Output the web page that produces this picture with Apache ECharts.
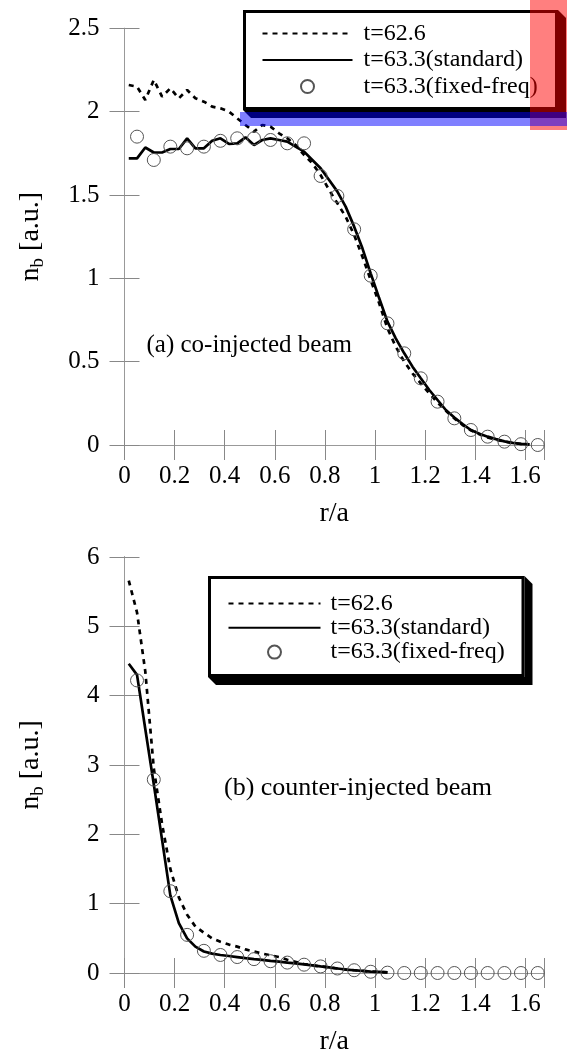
<!DOCTYPE html>
<html><head><meta charset="utf-8">
<script src="https://cdn.jsdelivr.net/npm/echarts@6.0.0/dist/echarts.min.js"></script>
<style>html,body{margin:0;padding:0;background:#fff}#c{width:567px;height:1051px}</style>
</head><body><div id="c"></div>
<script>
// ---- data ----
const seriesNames = ['t=62.6', 't=63.3(standard)', 't=63.3(fixed-freq)'];
const panelLabels = ['(a) co-injected beam', '(b) counter-injected beam'];
const xTitle = 'r/a';

const rLine = [0.017,0.05,0.083,0.117,0.15,0.183,0.217,0.25,0.283,0.317,0.35,0.383,0.417,0.45,0.483,0.517,0.55,0.583,0.617,0.65,0.683,0.717,0.75,0.783,0.817,0.85,0.883,0.917,0.95,0.983,1.017,1.05,1.083,1.117,1.15,1.183,1.217,1.25,1.283,1.317,1.35,1.383,1.417,1.45,1.483,1.517,1.55,1.583,1.617];
const rPts = [0.05,0.117,0.183,0.25,0.317,0.383,0.45,0.517,0.583,0.65,0.717,0.783,0.85,0.917,0.983,1.05,1.117,1.183,1.25,1.317,1.383,1.45,1.517,1.583,1.65];

const coT626 = [2.16,2.15,2.07,2.19,2.09,2.14,2.08,2.13,2.08,2.06,2.03,2.02,2.00,1.96,1.92,1.88,1.92,1.91,1.87,1.84,1.80,1.74,1.69,1.62,1.53,1.45,1.37,1.26,1.13,0.99,0.85,0.70,0.59,0.50,0.43,0.37,0.31,0.255,0.205,0.16,0.12,0.088,0.065,0.045,0.032,0.02,0.012,0.006,0.003];
const coStd = [1.72,1.72,1.785,1.755,1.755,1.776,1.776,1.84,1.78,1.78,1.825,1.84,1.806,1.81,1.846,1.80,1.83,1.84,1.83,1.82,1.79,1.76,1.71,1.66,1.59,1.52,1.43,1.31,1.18,1.03,0.88,0.74,0.64,0.55,0.47,0.40,0.33,0.27,0.21,0.165,0.125,0.09,0.068,0.05,0.035,0.022,0.013,0.007,0.004];
const coFix = [1.85,1.71,1.79,1.78,1.79,1.825,1.84,1.84,1.83,1.81,1.81,1.614,1.494,1.294,1.016,0.73,0.55,0.40,0.26,0.16,0.09,0.05,0.02,0.005,0.0];

const ctrT626 = [5.66,5.20,4.35,2.95,2.15,1.50,1.09,0.84,0.67,0.58,0.50,0.45,0.41,0.38,0.34,0.31,0.28,0.255,0.23,0.19,0.16,0.13,0.11,0.095,0.08,0.065,0.05,0.04,0.03,0.02,0.015,0.01];
const ctrStd = [4.46,4.30,3.52,2.72,1.92,1.12,0.72,0.50,0.38,0.31,0.28,0.26,0.245,0.23,0.215,0.20,0.19,0.175,0.165,0.15,0.14,0.125,0.11,0.095,0.08,0.065,0.05,0.04,0.03,0.02,0.015,0.01];
const ctrFix = [4.22,2.79,1.18,0.55,0.32,0.26,0.23,0.20,0.17,0.15,0.12,0.095,0.065,0.04,0.018,0.005,0,0,0,0,0,0,0,0,0];

const xMin = 0, xMax = 1.675, xStep = 0.2;
const yMaxA = 2.5, yStepA = 0.5;
const yMaxB = 6, yStepB = 1;

const FONT = 'Liberation Serif';
function pairs(xs, ys) { return ys.map((y, i) => [xs[i], y]); }
const onStep = (v, s) => Math.abs(v / s - Math.round(v / s)) < 1e-6;

const grids = [
  { left: 124.5, top: 28.3, width: 419.5, height: 416.7 },
  { left: 124.5, top: 557, width: 419.5, height: 416 }
];

const xAxes = [], yAxes = [];
const steps = [[yMaxA, yStepA], [yMaxB, yStepB]];
grids.forEach((g, gi) => {
  xAxes.push({
    type: 'value', gridIndex: gi, position: 'bottom', min: xMin, max: xMax, interval: xStep,
    axisLine: { lineStyle: { color: '#444', width: 1 } },
    axisTick: { inside: true, length: 15, lineStyle: { color: '#888', width: 1 } },
    splitLine: { show: false },
    axisLabel: { fontFamily: FONT, fontSize: 25, color: '#000', margin: 19,
      formatter: v => onStep(v, xStep) ? String(+v.toFixed(1)) : '' },
    name: xTitle, nameLocation: 'middle', nameGap: 55,
    nameTextStyle: { fontFamily: FONT, fontSize: 28, color: '#000' }
  });
  xAxes.push({
    type: 'value', gridIndex: gi, position: 'top', min: xMin, max: xMax, interval: xStep,
    axisLine: { lineStyle: { color: '#999', width: 1 } },
    axisTick: { inside: true, length: 15, lineStyle: { color: '#888', width: 1 } },
    splitLine: { show: false }, axisLabel: { show: false }
  });
  const [ym, ys] = steps[gi];
  yAxes.push({
    type: 'value', gridIndex: gi, position: 'left', min: 0, max: ym, interval: ys,
    axisLine: { lineStyle: { color: '#444', width: 1 } },
    axisTick: { inside: true, length: 15, lineStyle: { color: '#888', width: 1 } },
    splitLine: { show: false },
    axisLabel: { fontFamily: FONT, fontSize: 25, color: '#000', margin: 25 },
    name: '{m|n}{s|b}{m| [a.u.]}', nameLocation: 'middle', nameGap: 77, nameRotate: 90,
    nameTextStyle: { fontFamily: FONT, fontSize: 28, color: '#000',
      rich: {
        m: { fontFamily: FONT, fontSize: 28, color: '#000', lineHeight: 34, verticalAlign: 'middle' },
        s: { fontFamily: FONT, fontSize: 19, color: '#000', lineHeight: 18, verticalAlign: 'bottom' }
      } }
  });
  yAxes.push({
    type: 'value', gridIndex: gi, position: 'right', min: 0, max: ym, interval: ys,
    axisLine: { lineStyle: { color: '#999', width: 1 } },
    axisTick: { inside: true, length: 15, lineStyle: { color: '#888', width: 1 } },
    splitLine: { show: false }, axisLabel: { show: false }
  });
});

const panels = [
  { x: 0, y: 0, dashed: coT626, solid: coStd, pts: coFix },
  { x: 2, y: 2, dashed: ctrT626, solid: ctrStd, pts: ctrFix }
];
const series = [];
panels.forEach(p => {
  series.push({
    name: seriesNames[0], type: 'line', xAxisIndex: p.x, yAxisIndex: p.y,
    data: pairs(rLine, p.dashed), symbol: 'none', z: 3,
    itemStyle: { color: '#000' },
    lineStyle: { color: '#000', width: 2.7, type: [5, 5] }
  });
  series.push({
    name: seriesNames[1], type: 'line', xAxisIndex: p.x, yAxisIndex: p.y,
    data: pairs(rLine, p.solid), symbol: 'none', z: 3,
    itemStyle: { color: '#000' },
    lineStyle: { color: '#000', width: 2.7, type: 'solid' }
  });
  series.push({
    name: seriesNames[2], type: 'scatter', xAxisIndex: p.x, yAxisIndex: p.y,
    data: pairs(rPts, p.pts), symbol: 'circle', symbolSize: 13, z: 4,
    itemStyle: { color: 'rgba(0,0,0,0)', borderColor: '#555', borderWidth: 1, opacity: 1 }
  });
});

function legendOf(left, top, iw, gap, pad, tpad) {
  return {
    orient: 'vertical', left: left, top: top, itemWidth: iw, itemHeight: 13, itemGap: gap,
    padding: pad, backgroundColor: 'transparent', borderWidth: 0,
    selectedMode: false, z: 10,
    textStyle: { fontFamily: FONT, fontSize: 24, color: '#000', padding: [0, 0, 0, tpad] },
    data: [
      { name: seriesNames[0], itemStyle: { opacity: 0 } },
      { name: seriesNames[1], itemStyle: { opacity: 0 } },
      { name: seriesNames[2] }
    ]
  };
}

const frames = [[244.5, 11.5, 312, 97, 8], [209.5, 577.5, 313.5, 98, 8]];
const frameEls = [];
frames.forEach((f, i) => {
  const [fx, fy, fw, fh, o] = f;
  const R = fx + fw + 1.5, B = fy + fh + 1.5, L = fx - 1.5, T = fy - 1.5;
  frameEls.push({ type: 'rect', id: 'frame' + i, z: 9, silent: true,
    shape: { x: fx, y: fy, width: fw, height: fh },
    style: { fill: '#fff', stroke: '#000', lineWidth: 3 } });
  frameEls.push({ type: 'polygon', id: 'shadow' + i, z: 11, silent: true,
    shape: { points: [[R, T], [R + o, T + o], [R + o, B + o], [L + o, B + o], [L, B], [R, B]] },
    style: { fill: '#000' } });
});
// diagnostic markers
frameEls.push({ type: 'rect', id: 'diagRed', z: 30, shape: { x: 530, y: 0, width: 37, height: 130 }, style: { fill: 'rgba(255,0,0,0.5)' } });
frameEls.push({ type: 'rect', id: 'diagBlue', z: 30, shape: { x: 240, y: 112, width: 327, height: 14 }, style: { fill: 'rgba(0,0,255,0.5)' } });

const option = {
  animation: false,
  backgroundColor: '#fff',
  grid: grids.map(g => Object.assign({ containLabel: false, outerBoundsMode: 'none' }, g)),
  xAxis: xAxes,
  yAxis: yAxes,
  legend: [
    legendOf(244.5, 11.5, 90, 2.5, [10, 20, 12, 17], 6),
    legendOf(209.5, 577.5, 92, 0.3, [14, 17, 10, 18], 5)
  ],
  graphic: {
    elements: frameEls.concat([
      { type: 'text', id: 'labelA', x: 146.5, y: 345, z: 5,
        style: { text: panelLabels[0], font: '25px "Liberation Serif"', fill: '#000', verticalAlign: 'middle' } },
      { type: 'text', id: 'labelB', x: 224, y: 788, z: 5,
        style: { text: panelLabels[1], font: '26px "Liberation Serif"', fill: '#000', verticalAlign: 'middle' } }
    ])
  },
  series: series
};
const chart = echarts.init(document.getElementById('c'), null, { renderer: 'canvas' });
chart.setOption(option);
</script></body></html>
